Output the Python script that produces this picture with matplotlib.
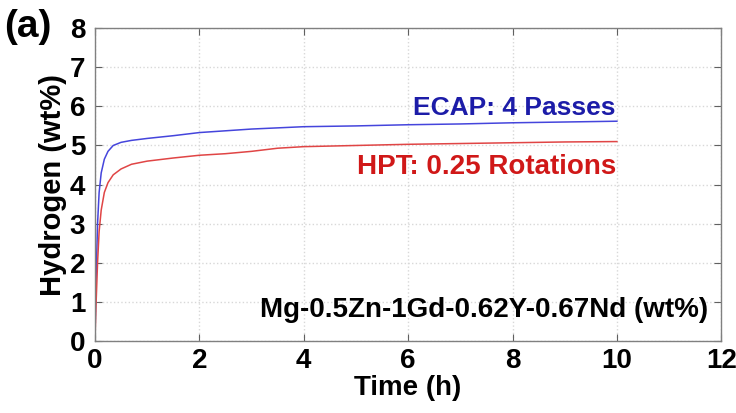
import matplotlib
matplotlib.use("Agg")
import matplotlib.pyplot as plt

# ---------------------------------------------------
# DATA
# ---------------------------------------------------

ecap_time = [0, 0.02, 0.05, 0.08, 0.12, 0.18, 0.25, 0.35, 0.5, 0.7, 1.0, 1.5, 2.0, 3.0, 4.0, 5.0, 6.0, 7.0, 8.0, 9.0, 10.0]
ecap_h2 = [0, 1.5, 3.0, 3.8, 4.3, 4.65, 4.85, 5.0, 5.08, 5.13, 5.18, 5.25, 5.33, 5.42, 5.48, 5.5, 5.53, 5.55, 5.58, 5.6, 5.62]

hpt_time = [0, 0.02, 0.05, 0.08, 0.12, 0.18, 0.25, 0.35, 0.5, 0.7, 1.0, 1.5, 2.0, 2.5, 3.0, 3.5, 4.0, 5.0, 6.0, 7.0, 8.0, 9.0, 10.0]
hpt_h2 = [0, 0.9, 2.0, 2.8, 3.35, 3.8, 4.05, 4.25, 4.4, 4.52, 4.6, 4.68, 4.75, 4.79, 4.85, 4.93, 4.97, 5.0, 5.03, 5.05, 5.07, 5.09, 5.1]

x_ticks = [0, 2, 4, 6, 8, 10, 12]
y_ticks = [0, 1, 2, 3, 4, 5, 6, 7, 8]

# ---------------------------------------------------
# STYLE
# ---------------------------------------------------

plt.rcParams["font.family"] = ["Liberation Sans", "DejaVu Sans"]
plt.rcParams["font.weight"] = "bold"

fig = plt.figure(figsize=(7.36, 4.13), dpi=100)
ax = fig.add_axes([0.129, 0.174, 0.851, 0.758])

ax.plot(ecap_time, ecap_h2, color="#4545dc", linewidth=1.1)
ax.plot(hpt_time, hpt_h2, color="#e04545", linewidth=1.1)

ax.set_xlim(0, 12)
ax.set_ylim(0, 8)
ax.set_xticks(x_ticks)
ax.set_yticks(y_ticks)

ax.grid(True, color="#d8d8d8", linestyle=":", linewidth=1.0)

for s in ax.spines.values():
    s.set_color("#808080")
    s.set_linewidth(1.0)

ax.tick_params(direction="in", top=True, right=True, length=5,
               color="#606060", labelsize=20)
ax.tick_params(axis="x", pad=5)
ax.tick_params(axis="y", pad=7)
for lab in ax.get_xticklabels() + ax.get_yticklabels():
    lab.set_fontweight("bold")

ax.set_xlabel("Time (h)", fontsize=20, fontweight="bold", labelpad=1)
ax.set_ylabel("Hydrogen (wt%)", fontsize=21, fontweight="bold", labelpad=2)

ax.text(9.98, 5.96, "ECAP: 4 Passes", color="#1c1ca8", fontsize=19,
        fontweight="bold", ha="right", va="center")
ax.text(9.98, 4.45, "HPT: 0.25 Rotations", color="#d01818", fontsize=20,
        fontweight="bold", ha="right", va="center")
ax.text(11.75, 0.79, "Mg-0.5Zn-1Gd-0.62Y-0.67Nd (wt%)", color="black",
        fontsize=20, fontweight="bold", ha="right", va="center")

fig.text(0.005, 0.935, "(a)", fontsize=28, fontweight="bold", ha="left", va="center")

plt.savefig("out.png", dpi=100)
